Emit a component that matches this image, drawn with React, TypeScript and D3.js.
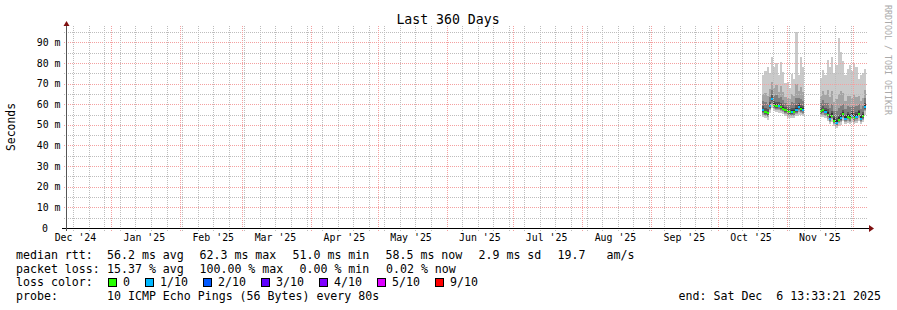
import React from 'react';
import * as d3 from 'd3';

const graphTitle = 'Last 360 Days';
const yAxisLabel = 'Seconds';
const watermark = 'RRDTOOL / TOBI OETIKER';
const periodStart = '2024-12-11T13:33:21Z';
const periodEnd = '2025-12-06T13:33:21Z';
const yMax = 97.9;
const yMajorTicks = [0, 10, 20, 30, 40, 50, 60, 70, 80, 90];
const yMinorTicks = [5, 15, 25, 35, 45, 55, 65, 75, 85, 95];

const sampleDays = [
  '2025-10-21', '2025-10-22', '2025-10-23', '2025-10-24', '2025-10-25', '2025-10-26', '2025-10-27',
  '2025-10-28', '2025-10-29', '2025-10-30', '2025-10-31', '2025-11-01', '2025-11-02', '2025-11-03',
  '2025-11-04', '2025-11-05', '2025-11-06', '2025-11-07', '2025-11-08',
  '2025-11-16', '2025-11-17', '2025-11-18', '2025-11-19', '2025-11-20', '2025-11-21', '2025-11-22',
  '2025-11-23', '2025-11-24', '2025-11-25', '2025-11-26', '2025-11-27', '2025-11-28', '2025-11-29',
  '2025-11-30', '2025-12-01', '2025-12-02', '2025-12-03', '2025-12-04', '2025-12-05', '2025-12-06',
];

// median rtt (ms)
const medianRtt = [
  57.0, 56.0, 55.5, 59.0, 62.3, 59.5, 59.0, 59.2, 58.5, 57.8, 57.0, 56.2, 56.0, 56.0, 56.3, 57.0, 58.6, 57.5, 57.2,
  56.5, 57.0, 56.2, 55.0, 53.0, 54.5, 52.0, 51.0, 52.5, 53.2, 55.2, 53.0, 54.0, 53.3, 54.5, 53.4, 54.0, 55.4, 53.0, 54.2, 58.5,
];
// lost pings out of 10
const lostPings = [
  1, 0, 0, 1, 1, 0, 0, 1, 0, 0, 0, 0, 0, 1, 0, 1, 1, 0, 1,
  0, 0, 1, 0, 1, 0, 0, 1, 0, 1, 0, 1, 0, 0, 1, 0, 1, 0, 1, 0, 1,
];
// sorted pings (ms), fastest to slowest
const ping01 = [
  54.0, 53.4, 52.3, 55.5, 58.3, 56.5, 56.2, 55.8, 55.5, 55.1, 54.5, 53.4, 53.4, 53.1, 53.2, 54.3, 55.0, 54.7, 54.2,
  53.8, 53.9, 53.3, 51.7, 50.4, 51.5, 49.2, 48.5, 49.6, 50.0, 51.7, 50.3, 51.0, 50.5, 51.4, 50.5, 51.0, 52.1, 50.3, 51.3, 54.7,
];
const ping02 = [
  55.0, 54.1, 53.6, 57.1, 59.9, 57.6, 57.1, 57.2, 56.6, 56.0, 55.3, 54.4, 54.3, 54.2, 54.4, 55.2, 56.4, 55.7, 55.3,
  54.7, 55.0, 54.3, 53.0, 51.3, 52.6, 50.3, 49.4, 50.7, 51.3, 53.1, 51.2, 52.1, 51.5, 52.6, 51.5, 52.1, 53.5, 51.2, 52.3, 56.5,
];
const ping03 = [
  55.7, 54.7, 54.2, 57.7, 60.8, 58.2, 57.7, 57.9, 57.2, 56.5, 55.8, 55.0, 54.8, 54.7, 55.0, 55.7, 57.2, 56.2, 55.9,
  55.2, 55.6, 54.9, 53.7, 51.8, 53.2, 50.8, 49.9, 51.2, 51.9, 53.8, 51.8, 52.7, 52.1, 53.2, 52.1, 52.7, 54.1, 51.8, 52.9, 57.2,
];
const ping04 = [
  56.3, 55.3, 54.8, 58.3, 61.5, 58.8, 58.3, 58.5, 57.8, 57.1, 56.3, 55.5, 55.3, 55.3, 55.6, 56.3, 57.9, 56.8, 56.5,
  55.8, 56.3, 55.5, 54.3, 52.3, 53.8, 51.3, 50.4, 51.8, 52.5, 54.5, 52.4, 53.3, 52.7, 53.8, 52.7, 53.3, 54.7, 52.4, 53.5, 57.8,
];
const ping05 = [
  56.7, 55.7, 55.2, 58.7, 62.0, 59.2, 58.7, 58.9, 58.2, 57.5, 56.7, 55.9, 55.7, 55.7, 56.0, 56.7, 58.3, 57.2, 56.9,
  56.2, 56.7, 55.9, 54.7, 52.7, 54.2, 51.7, 50.7, 52.2, 52.9, 54.9, 52.7, 53.7, 53.0, 54.2, 53.1, 53.7, 55.1, 52.7, 53.9, 58.2,
];
const ping06 = [
  57.6, 56.8, 56.3, 59.8, 63.0, 60.4, 59.9, 59.8, 59.3, 58.6, 57.7, 56.9, 56.6, 57.0, 57.2, 58.0, 59.6, 58.5, 58.0,
  57.3, 57.9, 57.2, 56.2, 54.3, 55.8, 53.5, 52.4, 53.8, 54.6, 56.3, 54.4, 55.2, 54.6, 55.6, 54.6, 55.1, 56.5, 54.5, 55.2, 59.4,
];
const ping07 = [
  59.0, 58.2, 57.6, 61.2, 64.5, 61.5, 61.3, 61.0, 60.6, 59.6, 58.8, 58.0, 57.6, 58.3, 58.1, 59.8, 60.6, 59.6, 59.3,
  58.4, 59.2, 58.2, 57.5, 55.2, 56.8, 54.2, 53.5, 54.9, 55.5, 57.2, 55.0, 56.2, 55.4, 56.6, 55.5, 56.1, 57.4, 55.0, 56.1, 60.6,
];
const ping08 = [
  61.5, 61.0, 60.0, 63.5, 67.0, 64.0, 64.5, 63.0, 63.5, 62.0, 60.5, 60.0, 59.5, 61.0, 60.5, 63.0, 63.0, 62.5, 61.5,
  60.5, 62.0, 60.5, 60.5, 58.0, 60.0, 56.5, 56.5, 58.0, 59.0, 60.0, 57.5, 59.0, 58.5, 59.0, 58.5, 59.0, 60.0, 57.5, 59.0, 63.0,
];
const ping09 = [
  65.0, 65.5, 64.0, 67.5, 71.0, 68.0, 69.5, 66.0, 69.0, 66.0, 63.5, 63.0, 62.5, 65.0, 64.0, 70.0, 66.5, 68.5, 66.0,
  64.0, 66.5, 64.5, 67.0, 63.5, 66.5, 61.0, 62.5, 65.0, 66.5, 65.5, 61.5, 64.0, 64.0, 63.0, 64.5, 63.5, 64.0, 61.5, 63.0, 67.0,
];
const ping10 = [
  74.0, 76.0, 78.0, 75.0, 82.7, 78.0, 80.0, 74.0, 80.6, 75.8, 70.5, 71.0, 68.0, 74.7, 72.0, 95.2, 74.0, 83.0, 78.0,
  72.5, 76.5, 74.0, 81.4, 78.0, 83.0, 75.0, 79.0, 92.0, 85.5, 81.0, 74.0, 77.0, 79.0, 76.0, 80.0, 78.0, 72.0, 74.0, 75.0, 77.0,
];

const rttStats = ['56.2 ms avg', '62.3 ms max', '51.0 ms min', '58.5 ms now', '2.9 ms sd'];
const rttAmplitude = '19.7';
const amplitudeUnit = 'am/s';
const lossStats = ['15.37 % avg', '100.00 % max', '0.00 % min', '0.02 % now'];
const lossLabels = ['0', '1/10', '2/10', '3/10', '4/10', '5/10', '9/10'];
const lossColors = ['#26ff00', '#00b8ff', '#0059ff', '#5e00ff', '#7e00ff', '#dd00ff', '#ff0000'];
const probeText = '10 ICMP Echo Pings (56 Bytes) every 80s';
const endText = 'end: Sat Dec  6 13:33:21 2025';

const smokeGrays = ['#cacaca', '#a4a4a4', '#7e7e7e', '#585858', '#323232'];
const MONO = '"DejaVu Sans Mono", monospace';

function lossBucket(n: number) {
  if (n <= 4) return n;
  if (n <= 8) return 5;
  return 6;
}

export default function App() {
  const t0 = new Date(periodStart);
  const t1 = new Date(periodEnd);
  const x = d3.scaleUtc().domain([t0, t1]).range([65.6, 865.6]);
  const y = d3.scaleLinear().domain([0, yMax]).range([228, 26]);
  const snap = (v: number) => Math.round(v) + 0.5;

  const months = d3.utcMonth.range(t0, t1);
  const monthSet = new Set(months.map((m) => +m));
  const weeks = d3.utcSunday.range(t0, t1).filter((w) => !monthSet.has(+w));
  const fmt = d3.utcFormat("%b '%y");
  const monthLabels = d3.utcMonth
    .range(d3.utcMonth.floor(t0), t1)
    .map((m) => ({ m, c: d3.utcDay.offset(m, 15) }))
    .filter((d) => d.c >= t0 && d.c <= t1);

  const parse = d3.utcParse('%Y-%m-%d');
  const pings = [ping01, ping02, ping03, ping04, ping05, ping06, ping07, ping08, ping09, ping10];
  const samples = sampleDays.map((s, i) => {
    const d0 = parse(s) as Date;
    let d1 = d3.utcDay.offset(d0, 1);
    if (d1 > t1) d1 = t1;
    return { i, x0: Math.round(x(d0)), x1: Math.round(x(d1)) };
  });

  const minorColor = '#bdbdbd';
  const majorColor = '#f4a0a0';

  const vDots = (dates: Date[]) =>
    dates.map((d) => `M${snap(x(d))},26` + 'v1m0,1'.repeat(103)).join('');

  const lx = 16;
  const row = [258.5, 272.5, 286.3, 300.3];
  const statX = [107, 199.5, 292.5, 385.5, 478.5];
  const lossX = [107, 199.5, 299.5, 386];

  return (
    <svg
      width={897}
      height={310}
      style={{ position: 'absolute', left: 0, top: 0, background: '#fff' }}
      fontFamily={MONO}
    >
      <rect x={0} y={0} width={897} height={310} fill="#ffffff" />

      {/* smoke */}
      <g shapeRendering="crispEdges">
        {smokeGrays.map((c, b) =>
          samples.map((s) => {
            const top = Math.round(y(pings[9 - b][s.i]));
            const bot = Math.round(y(pings[b][s.i]));
            return (
              <rect key={`s${b}-${s.i}`} x={s.x0} y={top} width={s.x1 - s.x0} height={Math.max(bot - top, 1)} fill={c} />
            );
          })
        )}
        {samples.map((s) => {
          const yy = Math.round(y(medianRtt[s.i]));
          return (
            <rect
              key={`m${s.i}`}
              x={s.x0}
              y={yy - 1}
              width={s.x1 - s.x0}
              height={2}
              fill={lossColors[lossBucket(lostPings[s.i])]}
            />
          );
        })}
      </g>

      {/* grid */}
      {yMinorTicks.map((v) => (
        <line
          key={`hm${v}`}
          x1={64}
          x2={868}
          y1={snap(y(v))}
          y2={snap(y(v))}
          stroke={minorColor}
          strokeWidth={1}
          strokeDasharray="1 1"
        />
      ))}
      {yMajorTicks.filter((v) => v > 0).map((v) => (
        <line
          key={`hM${v}`}
          x1={64}
          x2={868}
          y1={snap(y(v))}
          y2={snap(y(v))}
          stroke={majorColor}
          strokeWidth={1}
          strokeDasharray="1 1"
        />
      ))}
      <g fill="none" strokeWidth={1}>
        <path d={vDots(weeks)} stroke={minorColor} />
        <path d={vDots(months)} stroke={majorColor} />
      </g>

      {/* axes */}
      <path d="M62,228.5H869" stroke="#000" fill="none" />
      <path d="M66.5,231V25" stroke="#555" fill="none" />
      <path d="M63.5,26 L69.5,26 L66.5,21 Z" fill="#7f1010" />
      <path d="M869,225 L869,232 L874,228.5 Z" fill="#7f1010" />

      {/* y labels */}
      {yMajorTicks.map((v) => (
        <text
          key={`yl${v}`}
          x={v === 0 ? 48 : 60.5}
          y={y(v) + 3.6}
          textAnchor="end"
          fontSize={9.9}
          fill="#000"
        >
          {v === 0 ? '0' : `${v} m`}
        </text>
      ))}

      {/* x labels */}
      {monthLabels.map((d) => (
        <text key={`xl${+d.m}`} x={x(d.c)} y={241} textAnchor="middle" fontSize={9.9} fill="#000">
          {fmt(d.m)}
        </text>
      ))}

      {/* title */}
      <text x={448} y={23.5} textAnchor="middle" fontSize={13.2} fill="#000">
        {graphTitle}
      </text>
      <text transform="translate(15,127) rotate(-90)" textAnchor="middle" fontSize={11.4} fill="#000">
        {yAxisLabel}
      </text>
      <text transform="translate(885,5) rotate(90)" textAnchor="start" fontSize={8.3} fill="#aaaaaa">
        {watermark}
      </text>

      {/* legend */}
      <g fontSize={11.6} fill="#000">
        <text x={lx} y={row[0]}>median rtt:</text>
        {rttStats.map((s, i) => (
          <text key={`r${i}`} x={statX[i]} y={row[0]}>{s}</text>
        ))}
        <text x={557.5} y={row[0]}>{rttAmplitude}</text>
        <text x={606.5} y={row[0]}>{amplitudeUnit}</text>

        <text x={lx} y={row[1]}>packet loss:</text>
        {lossStats.map((s, i) => (
          <text key={`l${i}`} x={lossX[i]} y={row[1]}>{s}</text>
        ))}

        <text x={lx} y={row[2]}>loss color:</text>
        {lossLabels.map((lab, i) => {
          const bx = i === 0 ? 108.5 : 145.5 + 58 * (i - 1);
          return (
            <g key={`lc${i}`}>
              <rect x={bx} y={278.5} width={8} height={8} fill={lossColors[i]} stroke="#000" strokeWidth={1} shapeRendering="crispEdges" />
              <text x={bx + 14.5} y={row[2]}>{lab}</text>
            </g>
          );
        })}

        <text x={lx} y={row[3]}>probe:</text>
        <text x={107} y={row[3]}>{probeText}</text>
        <text x={881} y={row[3]} textAnchor="end" xmlSpace="preserve" style={{ whiteSpace: 'pre' }}>
          {endText}
        </text>
      </g>
    </svg>
  );
}
